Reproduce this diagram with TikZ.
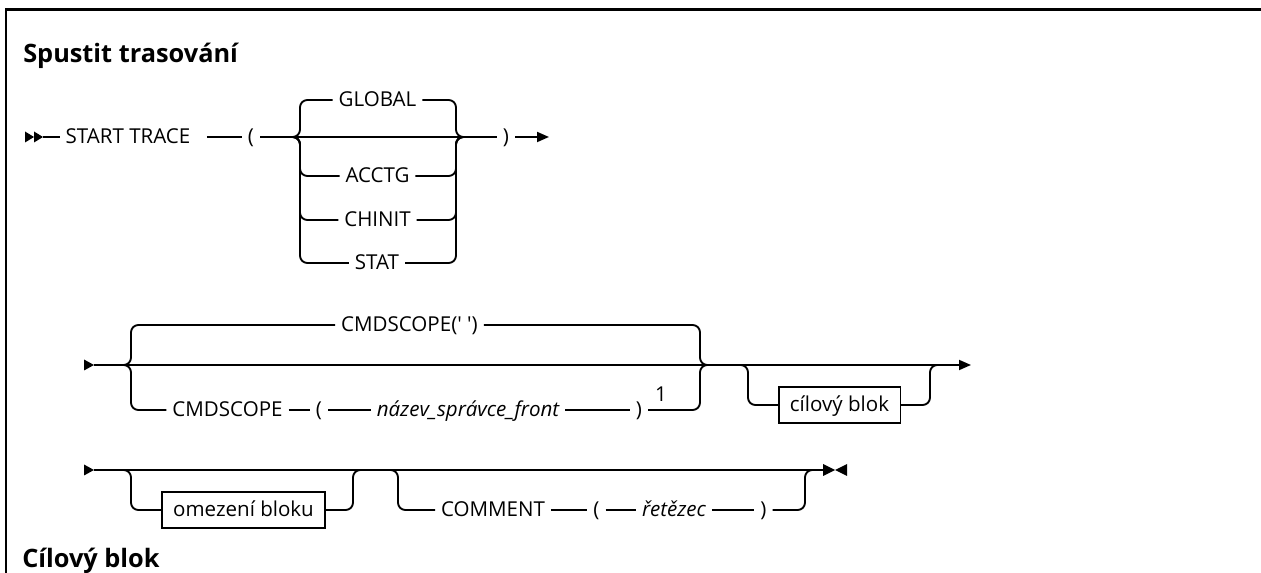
\documentclass[tikz,border=0pt]{standalone}
\usepackage{fontspec}
\setmainfont{Open Sans}
\usetikzlibrary{arrows.meta,calc}
\begin{document}
\begin{tikzpicture}[x=0.75pt,y=-0.75pt,
  ln/.style={line width=1.4pt},
  rr/.style={line width=1.4pt,rounded corners=5.5pt},
  lbl/.style={inner sep=0pt,outer xsep=4.5pt,outer ysep=0pt,text height=12.5pt,text depth=2pt,font=\fontsize{15.4}{18}\selectfont},
  var/.style={lbl,font=\fontsize{15.4}{18}\selectfont\itshape},
  blk/.style={draw,line width=1.3pt,inner xsep=8.5pt,inner ysep=6.5pt,text height=12.5pt,text depth=2pt,font=\fontsize{15.4}{18}\selectfont},
  hd/.style={anchor=base west,inner sep=0pt,font=\fontsize{19}{23}\selectfont\bfseries},
  tip/.style={-{Triangle[length=9pt,width=7.5pt]}},
]
\useasboundingbox (0,0) rectangle (1261,573);
% frame
\draw[line width=1.75pt] (6,590) -- (6,9.5) -- (1280,9.5);

% headings
\node[hd] (h1) at (23,63) {Spustit trasování};
\node[hd] (h2) at (22,567) {Cílový blok};

% ---------- line 1 ----------
\fill (25,131.5) -- (34,137) -- (25,142.5) -- cycle;
\fill (34,131.5) -- (43,137) -- (34,142.5) -- cycle;
\coordinate (m1) at (43,137);
\node[lbl] (st) at (128,137) {START TRACE};
\node[lbl] (lp1) at (251,137) {(};
\node[lbl] (rp1) at (506,137) {)};
\coordinate (e1) at (549,137);
\coordinate (jl1) at (300,137);
\coordinate (jr1) at (456,137);
\node[lbl] (g) at (377.5,100) {GLOBAL};
\node[lbl] (ac) at (377.5,176) {ACCTG};
\node[lbl] (ch) at (377.5,220) {CHINIT};
\node[lbl] (sa) at (377,263) {STAT};

\draw[ln] (m1) -- (st.west);
\draw[ln] ([xshift=8pt]st.east) -- (lp1.west);
\draw[ln] (lp1.east) -- (rp1.west);
\draw[ln,tip] (rp1.east) -- (e1);
\foreach \b in {g,ac,ch,sa}{
  \draw[rr] ($(jl1)+(-8,0)$) -| (jl1 |- \b.west) -- (\b.west);
  \draw[rr] (\b.east) -| (jr1) -- ++(8,0);
}

% ---------- line 2 ----------
\fill (84,359.5) -- (94,365) -- (84,370.5) -- cycle;
\coordinate (m2) at (94,365);
\coordinate (e2) at (971,365);
\coordinate (jl2) at (131,365);
\coordinate (jr2) at (700,365);
\coordinate (jl3) at (748,365);
\coordinate (jr3) at (930,365);
\draw[ln,tip] (m2) -- (e2);

\node[lbl] (cs1) at (409.5,325) {CMDSCOPE(\textquotesingle\ \textquotesingle)};
\draw[rr] ($(jl2)+(-8,0)$) -| (jl2 |- cs1.west) -- (cs1.west);
\draw[rr] (cs1.east) -| (jr2) -- ++(8,0);

\node[lbl] (cs2) at (227.5,410) {CMDSCOPE};
\node[lbl] (lp2) at (319,410) {(};
\node[var] (nm) at (468,410) {název\_správce\_front};
\node[lbl] (rp2) at (639,410) {)};
\node[lbl] (n1) at (661,395) {1};
\draw[rr] ($(jl2)+(-8,0)$) -| (jl2 |- cs2.west) -- (cs2.west);
\draw[ln] (cs2.east) -- (lp2.west);
\draw[ln] (lp2.east) -- (nm.west);
\draw[ln] (nm.east) -- (rp2.west);
\draw[rr] (rp2.east) -| (jr2) -- ++(8,0);

\node[blk] (cb) at (839.5,405) {cílový blok};
\draw[rr] ($(jl3)+(-8,0)$) -| (jl3 |- cb.west) -- (cb.west);
\draw[rr] (cb.east) -| (jr3) -- ++(8,0);

% ---------- line 3 ----------
\fill (84,464.5) -- (94,470) -- (84,475.5) -- cycle;
\coordinate (m3) at (94,470);
\coordinate (e3) at (823,470);
\draw[ln] (m3) -- (e3);
\fill (823,464) -- (835,470) -- (823,476) -- cycle;
\fill (847,464) -- (835,470) -- (847,476) -- cycle;
\coordinate (jl4) at (131,470);
\coordinate (jr4) at (353,470);
\coordinate (jl5) at (398,470);
\coordinate (jr5) at (805,470);

\node[blk] (ob) at (243.5,510) {omezení bloku};
\draw[rr] ($(jl4)+(-8,0)$) -| (jl4 |- ob.west) -- (ob.west);
\draw[rr] (ob.east) -| (jr4) -- ++(8,0);

\node[lbl] (cm) at (493,510) {COMMENT};
\node[lbl] (lp3) at (596.5,510) {(};
\node[var] (rt) at (674,510) {řetězec};
\node[lbl] (rp3) at (763.5,510) {)};
\draw[rr] ($(jl5)+(-8,0)$) -| (jl5 |- cm.west) -- (cm.west);
\draw[ln] (cm.east) -- (lp3.west);
\draw[ln] (lp3.east) -- (rt.west);
\draw[ln] (rt.east) -- (rp3.west);
\draw[rr] (rp3.east) -| (jr5) -- ++(8,0);
\end{tikzpicture}
\end{document}
